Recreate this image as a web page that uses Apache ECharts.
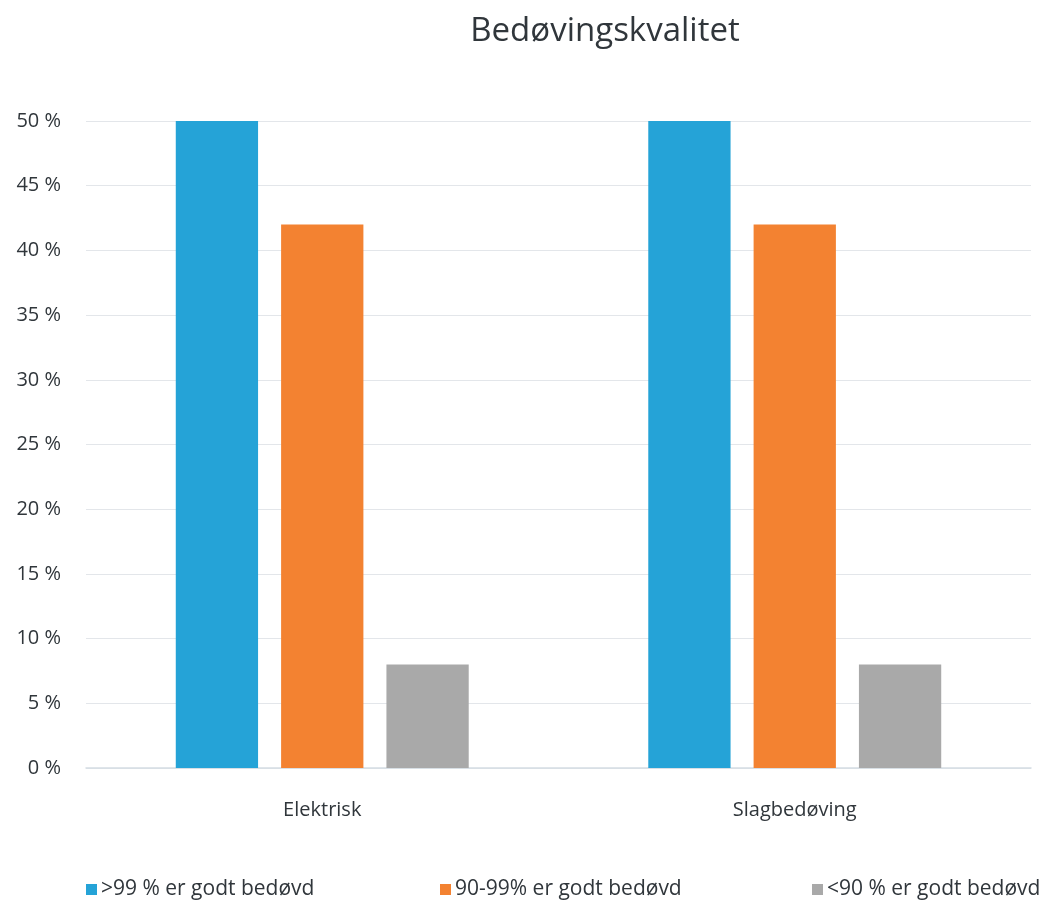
<!DOCTYPE html>
<html>
<head>
<meta charset="utf-8">
<script src="https://cdn.jsdelivr.net/npm/echarts@6/dist/echarts.min.js"></script>
<style>
  html, body { margin: 0; padding: 0; background: #fff; }
  #chart { width: 1043px; height: 901px; }
</style>
</head>
<body>
<div id="chart"></div>
<script>
// Anaesthesia quality by stunning method (share of animals)
const categories = ['Elektrisk', 'Slagbedøving'];
const seriesNames = ['>99 % er godt bedøvd', '90-99% er godt bedøvd', '<90 % er godt bedøvd'];
const over99 = [50, 50];
const between90and99 = [42, 42];
const under90 = [8, 8];
const seriesValues = [over99, between90and99, under90];
const colors = ['#25A3D7', '#F38231', '#A9A9A9'];

const font = '"Open Sans", "Noto Sans", sans-serif';
const textColor = '#30363b';

const chart = echarts.init(document.getElementById('chart'), null, { renderer: 'canvas' });

const legendLefts = [81, 435, 807];

chart.setOption({
  backgroundColor: '#ffffff',
  animation: false,
  title: {
    text: 'Bedøvingskvalitet',
    left: 600,
    top: 10,
    textAlign: 'center',
    textStyle: { fontFamily: font, fontSize: 33, fontWeight: 'normal', color: textColor }
  },
  legend: seriesNames.map((name, i) => ({
    data: [name],
    left: legendLefts[i],
    top: 874,
    itemWidth: 11,
    itemHeight: 11,
    itemGap: 5,
    icon: 'rect',
    textStyle: { fontFamily: font, fontSize: 21, color: textColor, padding: [0, 0, 0, -1] }
  })),
  grid: { left: 86, right: 12, top: 121, bottom: 133, containLabel: false },
  xAxis: {
    type: 'category',
    data: categories,
    axisLine: { show: true, lineStyle: { color: '#d5dde3', width: 1.5 } },
    axisTick: { show: false },
    axisLabel: { fontFamily: font, fontSize: 20, color: textColor, margin: 32 }
  },
  yAxis: {
    type: 'value',
    min: 0,
    max: 50,
    interval: 5,
    axisLine: { show: false },
    axisTick: { show: false },
    splitLine: { lineStyle: { color: '#e3e6ea', width: 1.2 } },
    axisLabel: {
      fontFamily: font, fontSize: 20, color: textColor, margin: 25,
      formatter: v => v + ' %'
    }
  },
  series: seriesNames.map((name, i) => ({
    name,
    type: 'bar',
    data: seriesValues[i],
    barGap: '28%',
    barCategoryGap: '38%',
    itemStyle: { color: colors[i] }
  }))
});
</script>
</body>
</html>
